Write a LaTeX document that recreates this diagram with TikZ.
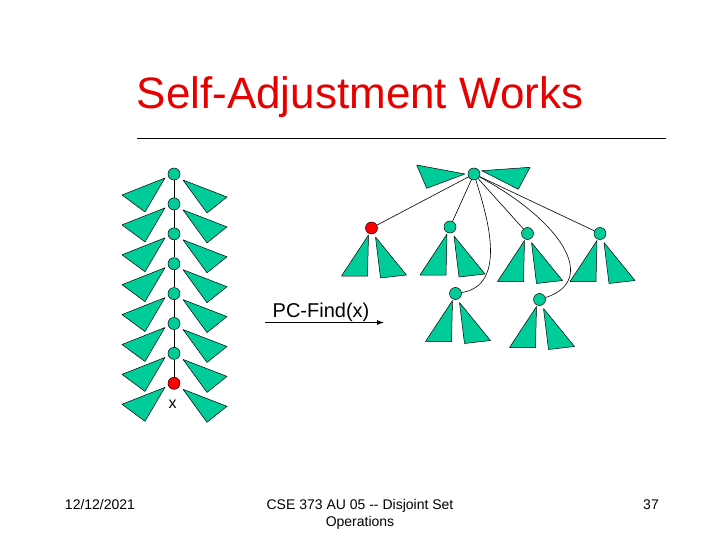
\documentclass[tikz,border=0pt]{standalone}
\usepackage{fontspec}
\setmainfont{Liberation Sans}
\usetikzlibrary{arrows.meta}
\definecolor{seagreen}{RGB}{0,204,153}
\definecolor{titlered}{RGB}{230,0,0}

\begin{document}
\begin{tikzpicture}[x=1pt, y=-1pt,
    tri/.style={fill=seagreen, draw=black, line width=0.5pt, line join=round},
    vert/.style={circle, fill=seagreen, draw=black, line width=0.5pt, inner sep=0pt, minimum size=12pt},
    hit/.style={vert, fill=red},
    edge/.style={line width=0.6pt}]
    \useasboundingbox (0,0) rectangle (720,540);
    \node[anchor=base, text=titlered, font=\fontsize{44}{53}\selectfont] (title) at (360,109) {Self-Adjustment Works};
    \coordinate (rule_l) at (137,138);
    \coordinate (rule_r) at (666,138);
    \draw[line width=0.75pt] (rule_l) -- (rule_r);

    % long path before the find
    \foreach \i in {0,...,7} {
        \pgfmathsetmacro{\y}{174+29.9*\i}
        \begin{scope}[shift={(174,\y)}]
            \draw[tri] (-9,4) -- (-52,21) -- (-29,38) -- cycle;
            \draw[tri] (9,6) -- (53,23) -- (33,39) -- cycle;
        \end{scope}
        \ifnum\i<7 \node[vert] (p\i) at (174,\y) {}; \fi
    }
    \node[hit] (x) at (174,383.3) {};
    \foreach \i [evaluate=\i as \j using int(\i+1)] in {0,...,5} {
        \draw[edge] (p\i) -- (p\j);
    }
    \draw[edge] (p6) -- (x);
    \node[anchor=base, font=\fontsize{16}{19}\selectfont] (xlbl) at (172.5,408.5) {x};

    % the operation
    \coordinate (find_s) at (265,322.5);
    \coordinate (find_e) at (384,322.5);
    \draw[line width=0.9pt, -{Latex[length=7pt,width=5pt]}] (find_s) -- (find_e);
    \node[anchor=base, font=\fontsize{20}{24}\selectfont] (findlbl) at (321,317) {PC-Find(x)};

    % after the find: everything hangs off the root
    \draw[tri] (416.7,165) -- (465,174) -- (426.7,188.3) -- cycle;
    \draw[tri] (481.7,170.7) -- (530,167.3) -- (518.3,189.3) -- cycle;
    \node[vert] (root) at (474,174) {};
    \foreach \n/\cx/\cy/\st in {c1/371.5/228/hit, c2/450/227/vert, c3/527.5/233.5/vert,
                                c4/600/233.5/vert, c5/455.5/293.5/vert, c6/539.5/299.5/vert} {
        \begin{scope}[shift={(\cx,\cy)}]
            \draw[tri] (-3,7) -- (-30,48) -- (-4,48) -- cycle;
            \draw[tri] (4,9) -- (35,47) -- (9,50) -- cycle;
        \end{scope}
        \node[\st] (\n) at (\cx,\cy) {};
    }
    \foreach \n in {c1,c2,c3,c4} {
        \draw[edge] (root) -- (\n);
    }
    \draw[edge] (root) .. controls (485,210) and (510,285) .. (c5);
    \draw[edge] (root) .. controls (560,220) and (600,280) .. (c6);

    % footer
    \node[anchor=base, font=\fontsize{14}{17}\selectfont] (date) at (100,509) {12/12/2021};
    \node[anchor=base, font=\fontsize{14}{17}\selectfont] (course) at (360,509) {CSE 373 AU 05 -{}- Disjoint Set};
    \node[anchor=base, font=\fontsize{14}{17}\selectfont] (course2) at (360,526) {Operations};
    \node[anchor=base, font=\fontsize{14}{17}\selectfont] (page) at (651,509) {37};
\end{tikzpicture}
\end{document}
